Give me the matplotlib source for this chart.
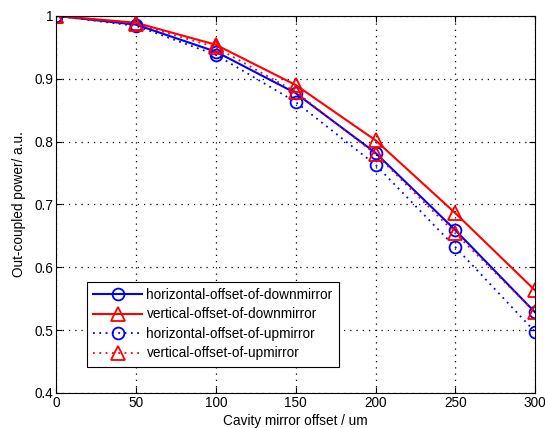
import matplotlib
matplotlib.use('Agg')
import matplotlib.pyplot as plt

plt.rcParams['font.family'] = ['Liberation Sans', 'DejaVu Sans']

# 腔镜偏移量 (um)
offset = [0, 50, 100, 150, 200, 250, 300]
# 四组输出功率数据
h_down = [1.0, 0.986, 0.943, 0.877, 0.782, 0.659, 0.528]
v_down = [1.0, 0.989, 0.954, 0.890, 0.802, 0.686, 0.563]
h_up = [1.0, 0.984, 0.938, 0.863, 0.763, 0.632, 0.497]
v_up = [1.0, 0.987, 0.950, 0.879, 0.780, 0.654, 0.528]

xticks = [0, 50, 100, 150, 200, 250, 300]
yticks = [0.4, 0.5, 0.6, 0.7, 0.8, 0.9, 1.0]
ytick_labels = ['0.4', '0.5', '0.6', '0.7', '0.8', '0.9', '1']

fig = plt.figure(figsize=(5.45, 4.28), dpi=100)
ax = fig.add_axes([0.103, 0.082, 0.879, 0.881])

fs = 9.8
ms = 8.5
ax.plot(offset, h_down, color='blue', ls='-', lw=1.5, marker='o', ms=ms,
        mfc='none', mew=1.3, label='horizontal-offset-of-downmirror')
ax.plot(offset, v_down, color='red', ls='-', lw=1.5, marker='^', ms=ms + 1,
        mfc='none', mew=1.3, label='vertical-offset-of-downmirror')
ax.plot(offset, h_up, color='blue', ls=(0, (1, 2.5)), lw=1.3, marker='o', ms=ms,
        mfc='none', mew=1.3, label='horizontal-offset-of-upmirror')
ax.plot(offset, v_up, color='red', ls=(0, (1, 2.5)), lw=1.3, marker='^', ms=ms + 1,
        mfc='none', mew=1.3, label='vertical-offset-of-upmirror')

ax.set_xlim(0, 300)
ax.set_ylim(0.4, 1.0)
ax.set_xticks(xticks)
ax.set_yticks(yticks)
ax.set_yticklabels(ytick_labels)
ax.tick_params(direction='in', top=True, right=True, labelsize=fs, length=4, pad=2)
ax.grid(True, color='black', ls=(0, (1, 4)), lw=0.9)
ax.set_axisbelow(True)
for s in ax.spines.values():
    s.set_linewidth(0.8)

ax.set_xlabel('Cavity mirror offset / um', fontsize=fs, labelpad=3)
ax.set_ylabel('Out-coupled power/ a.u.', fontsize=fs, labelpad=6)

leg = ax.legend(loc='lower left', bbox_to_anchor=(0.065, 0.07), fontsize=fs,
                fancybox=False, framealpha=1, edgecolor='black',
                handlelength=3.6, handletextpad=0.3, borderpad=0.45,
                labelspacing=0.4, borderaxespad=0)
leg.get_frame().set_linewidth(0.8)

fig.savefig('out.png', dpi=100)
